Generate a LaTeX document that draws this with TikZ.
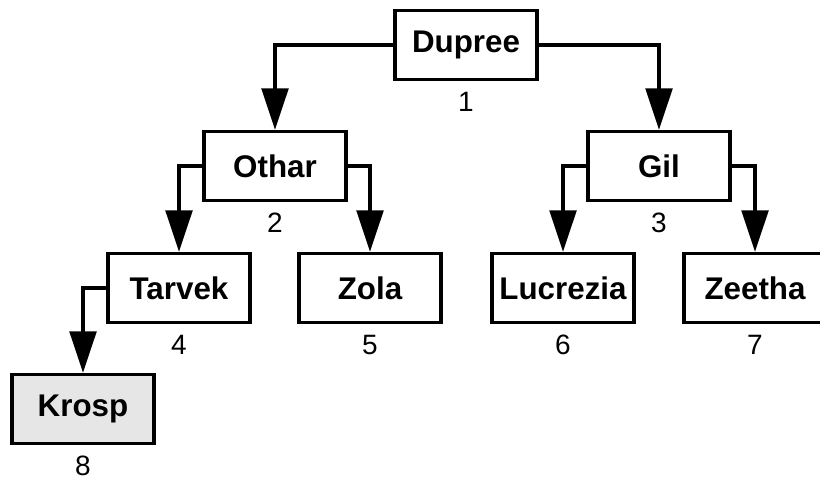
\documentclass[tikz,border=0pt]{standalone}
\usepackage{fontspec}
\setmainfont{Liberation Sans}
\usetikzlibrary{positioning,arrows.meta}
\definecolor{leafgray}{HTML}{E6E6E6}
\newcommand{\myShowBox}[5][]{
\node[box, #1] (#2) at (#3) {#4};
\node[num, below = 8pt of #2] (#2n) {#5};
}

\begin{document}
\begin{tikzpicture}[x=0.75pt, y=-0.75pt,
	box/.style = {draw, line width = 2.6pt, minimum width = 106.5pt, minimum height = 51.75pt,
		inner sep = 0pt, font = \bfseries\fontsize{23.5}{28}\selectfont},
	num/.style = {inner sep = 0pt, font = \fontsize{21}{25}\selectfont},
	link/.style = {line width = 2.4pt, -{Triangle[length = 31pt, width = 20pt]}}]
	\useasboundingbox (0,0) rectangle (820,481);
	\clip (0,0) rectangle (820,481);

	\myShowBox{dupree}{466,45}{Dupree}{1}
	\myShowBox{othar}{275,166}{Othar}{2}
	\myShowBox{gil}{659,166}{Gil}{3}
	\myShowBox{tarvek}{179,288}{Tarvek}{4}
	\myShowBox{zola}{370,288}{Zola}{5}
	\myShowBox{lucrezia}{563,288}{Lucrezia}{6}
	\myShowBox{zeetha}{755,288}{Zeetha}{7}
	\myShowBox[fill = leafgray]{krosp}{83,409}{Krosp}{8}

	\draw[link] (dupree.west) -| (othar.north);
	\draw[link] (dupree.east) -| (gil.north);
	\draw[link] (othar.west) -| (tarvek.north);
	\draw[link] (othar.east) -| (zola.north);
	\draw[link] (gil.west) -| (lucrezia.north);
	\draw[link] (gil.east) -| (zeetha.north);
	\draw[link] (tarvek.west) -| (krosp.north);
\end{tikzpicture}
\end{document}
